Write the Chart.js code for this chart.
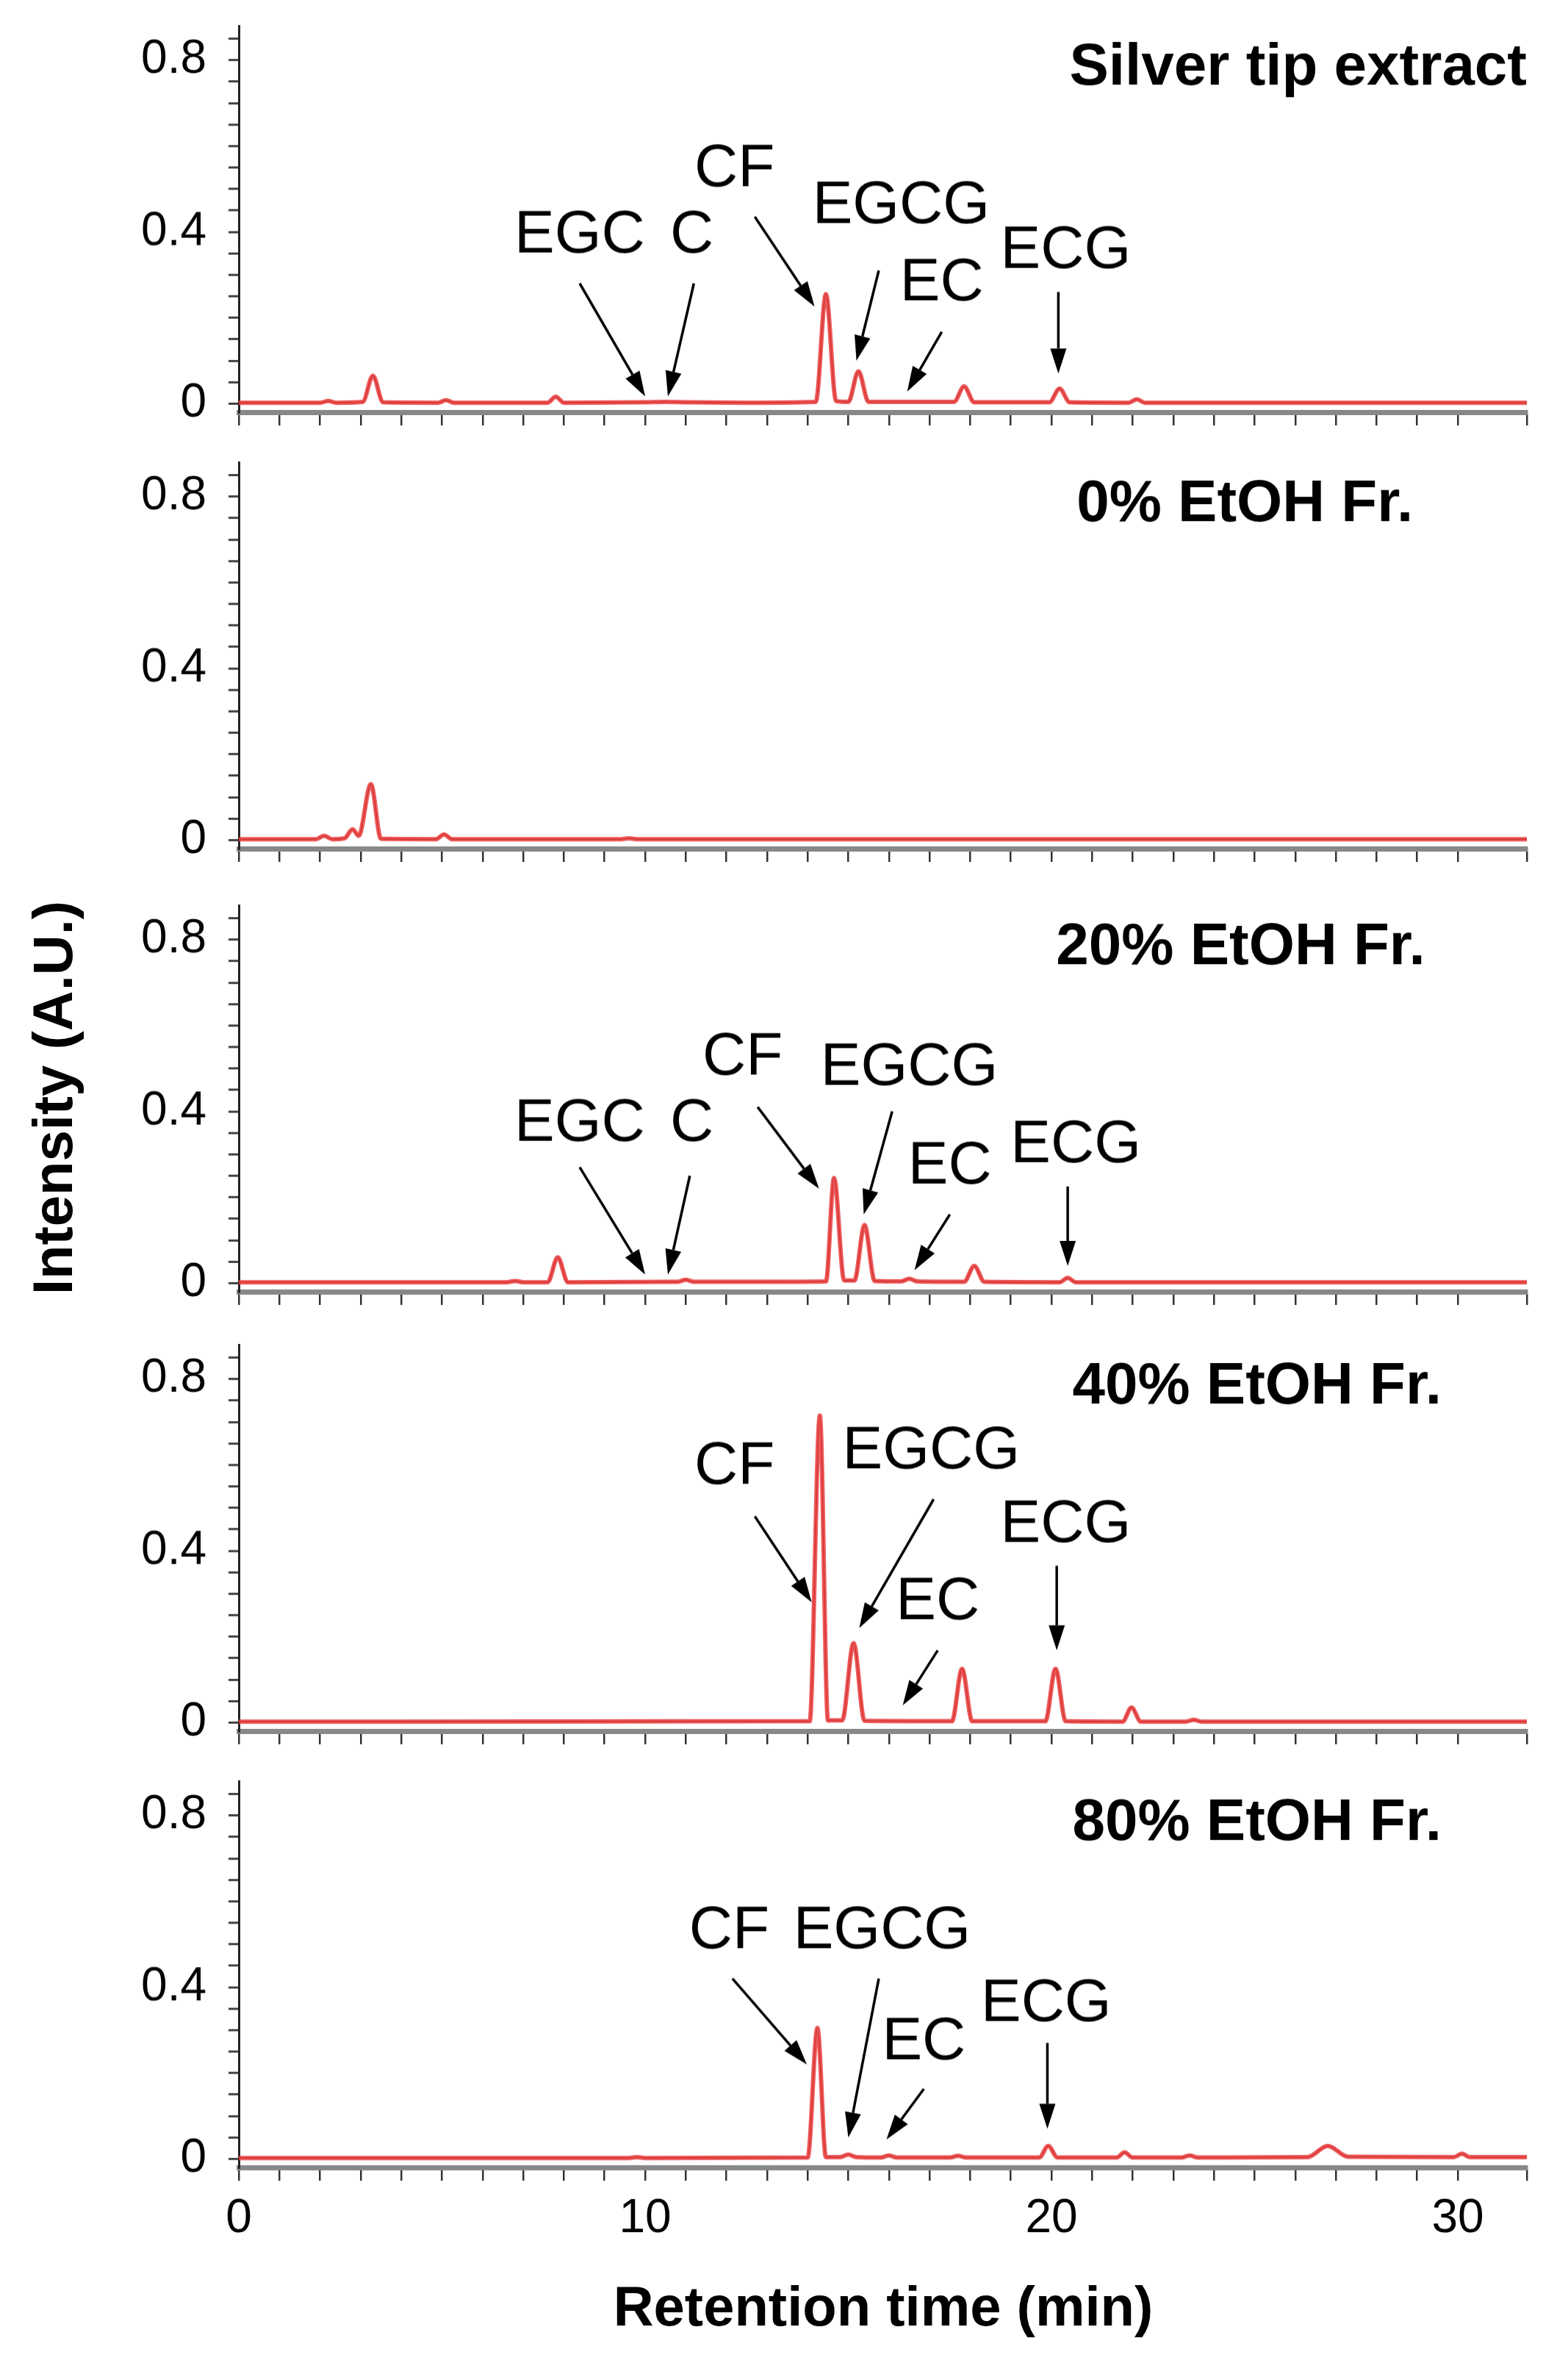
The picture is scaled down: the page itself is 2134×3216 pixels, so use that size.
<!DOCTYPE html>
<html>
<head>
<meta charset="utf-8">
<script src="https://cdn.jsdelivr.net/npm/chart.js@4.4.1/dist/chart.umd.min.js"></script>
<style>
  body { margin: 0; background: #fff; }
  #wrap { position: relative; width: 2134px; height: 3216px; overflow: hidden; }
  canvas { position: absolute; left: 0; }
  .title { position: absolute; font-family: "Liberation Sans", Arial, sans-serif; font-weight: bold; font-size: 76px; color: #000; white-space: nowrap; }
</style>
</head>
<body>
<div id="wrap">
  <div class="title" id="xTitle" style="left:0;width:2134px;text-align:center;top:3095px;padding-left:270px;box-sizing:border-box;">Retention time (min)</div>
  <div class="title" id="yTitle" style="left:71px;top:1494px;transform:translate(-50%,-50%) rotate(-90deg);">Intensity (A.U.)</div>
</div>
<script>
// ---- data ----
const panelNames = ["Silver tip extract", "0% EtOH Fr.", "20% EtOH Fr.", "40% EtOH Fr.", "80% EtOH Fr."];
const panelZero = [549, 1143, 1746, 2344, 2938]; // pixel row of intensity 0 in each panel

const silverX = [0,2.0,2.2,2.4,3.05,3.3,3.55,4.9,5.1,5.3,7.6,7.8,8.0,10.0,10.5,11.0,12.5,14.2,14.45,14.7,15.0,15.25,15.5,16.5,17.6,17.85,18.1,19.95,20.2,20.45,21.9,22.1,22.3,25,28,31.7];
const silverY = [0.002,0.002,0.006,0.002,0.004,0.065,0.003,0.002,0.008,0.002,0.002,0.016,0.002,0.003,0.004,0.003,0.002,0.004,0.255,0.006,0.004,0.075,0.004,0.004,0.004,0.04,0.003,0.003,0.035,0.003,0.002,0.01,0.002,0.002,0.002,0.002];

const etoh0X = [0,1.9,2.1,2.3,2.6,2.8,2.95,3.25,3.5,4.85,5.05,5.25,9.4,9.6,9.8,31.7];
const etoh0Y = [0.002,0.002,0.01,0.002,0.004,0.025,0.01,0.13,0.003,0.002,0.013,0.002,0.002,0.004,0.002,0.002];

const etoh20X = [0,6.6,6.8,7.0,7.6,7.85,8.1,10.8,11.0,11.2,13.0,14.45,14.65,14.9,15.15,15.4,15.65,16.3,16.5,16.7,17.85,18.1,18.35,20.2,20.4,20.6,31.7];
const etoh20Y = [0.002,0.002,0.005,0.002,0.002,0.06,0.002,0.003,0.008,0.003,0.003,0.004,0.245,0.006,0.006,0.135,0.005,0.004,0.01,0.004,0.003,0.04,0.003,0.002,0.012,0.002,0.002];

const etoh40X = [0,14.05,14.3,14.5,14.85,15.13,15.4,17.55,17.8,18.05,19.85,20.1,20.35,21.75,21.97,22.2,23.3,23.5,23.7,31.7];
const etoh40Y = [0.002,0.003,0.715,0.005,0.005,0.185,0.004,0.003,0.125,0.003,0.003,0.125,0.003,0.002,0.035,0.002,0.002,0.006,0.002,0.002];

const etoh80X = [0,9.6,9.8,10.0,14.0,14.24,14.45,14.8,15.0,15.2,15.8,16.0,16.2,17.5,17.7,17.9,19.7,19.92,20.15,21.6,21.8,22.0,23.2,23.4,23.6,26.3,26.8,27.3,29.9,30.1,30.3,31.7];
const etoh80Y = [0.002,0.002,0.004,0.002,0.003,0.305,0.004,0.004,0.01,0.004,0.003,0.008,0.003,0.003,0.007,0.003,0.003,0.03,0.003,0.003,0.015,0.003,0.003,0.008,0.003,0.004,0.03,0.005,0.004,0.012,0.004,0.004];

// peak labels: [text, labelX, labelY, arrowFromX, arrowFromY, arrowToX, arrowToY]
const silverLabels = [
  ["EGC", 8.39, 0.39, 8.39, 0.28, 10.0, 0.017],
  ["C", 11.15, 0.39, 11.2, 0.28, 10.56, 0.017],
  ["CF", 12.2, 0.545, 12.7, 0.435, 14.17, 0.226],
  ["EGCG", 16.3, 0.46, 15.75, 0.31, 15.2, 0.10],
  ["EC", 17.3, 0.28, 17.3, 0.167, 16.45, 0.028],
  ["ECG", 20.35, 0.355, 20.17, 0.26, 20.17, 0.07]
];
const etoh0Labels = [];
const etoh20Labels = [
  ["EGC", 8.39, 0.37, 8.39, 0.27, 10.0, 0.02],
  ["C", 11.15, 0.37, 11.1, 0.25, 10.56, 0.02],
  ["CF", 12.4, 0.525, 12.77, 0.41, 14.28, 0.22],
  ["EGCG", 16.5, 0.5, 16.08, 0.4, 15.38, 0.16],
  ["EC", 17.5, 0.27, 17.5, 0.16, 16.63, 0.03],
  ["ECG", 20.6, 0.32, 20.4, 0.225, 20.4, 0.04]
];
const etoh40Labels = [
  ["CF", 12.2, 0.595, 12.7, 0.48, 14.1, 0.28],
  ["EGCG", 17.04, 0.63, 17.1, 0.52, 15.27, 0.22],
  ["EC", 17.2, 0.28, 17.2, 0.168, 16.34, 0.04],
  ["ECG", 20.35, 0.46, 20.13, 0.365, 20.13, 0.168]
];
const etoh80Labels = [
  ["CF", 12.07, 0.53, 12.15, 0.42, 13.98, 0.22],
  ["EGCG", 15.83, 0.53, 15.75, 0.42, 15.0, 0.05],
  ["EC", 16.86, 0.27, 16.86, 0.163, 15.94, 0.045],
  ["ECG", 19.87, 0.36, 19.9, 0.27, 19.9, 0.07]
];
const panelTitleRight = [31.7, 28.9, 29.2, 29.6, 29.6]; // x (min) where panel name ends

const xTicksShown = [0, 10, 20, 30];
const yTicksShown = [0, 0.4, 0.8];

const panelX = [silverX, etoh0X, etoh20X, etoh40X, etoh80X];
const panelY = [silverY, etoh0Y, etoh20Y, etoh40Y, etoh80Y];
const panelLabels = [silverLabels, etoh0Labels, etoh20Labels, etoh40Labels, etoh80Labels];

const FONT = '"Liberation Sans", Arial, sans-serif';
const Y_MIN = -0.02, Y_MAX = 0.88, UNIT_PX = 584;
const PAD_TOP = 40;

const labelPlugin = {
    id: 'peakLabels',
    afterDatasetsDraw(chart, args, opts) {
        const c = chart.ctx, xs = chart.scales.x, ys = chart.scales.y;
        c.save();
        c.fillStyle = '#000';
        c.strokeStyle = '#000';
        c.lineWidth = 3.5;
        c.textAlign = 'center';
        c.textBaseline = 'middle';
        c.font = '82px ' + FONT;
        opts.labels.forEach(l => {
            c.fillText(l[0], xs.getPixelForValue(l[1]), ys.getPixelForValue(l[2]));
            const x1 = xs.getPixelForValue(l[3]), y1 = ys.getPixelForValue(l[4]);
            const x2 = xs.getPixelForValue(l[5]), y2 = ys.getPixelForValue(l[6]);
            const a = Math.atan2(y2 - y1, x2 - x1);
            const hl = 34, hw = 11;
            const bx = x2 - hl * Math.cos(a), by = y2 - hl * Math.sin(a);
            c.beginPath(); c.moveTo(x1, y1); c.lineTo(bx, by); c.stroke();
            c.beginPath();
            c.moveTo(x2, y2);
            c.lineTo(bx + hw * Math.sin(a), by - hw * Math.cos(a));
            c.lineTo(bx - hw * Math.sin(a), by + hw * Math.cos(a));
            c.closePath(); c.fill();
        });
        c.font = 'bold 80px ' + FONT;
        c.textAlign = 'right';
        c.fillText(opts.title, xs.getPixelForValue(opts.titleRight), ys.getPixelForValue(0.78));
        c.restore();
    }
};

const wrap = document.getElementById('wrap');

panelNames.forEach((name, i) => {
    const last = i === panelNames.length - 1;
    const areaH = (Y_MAX - Y_MIN) * UNIT_PX;
    const axisH = last ? 140 : 40;
    const top = panelZero[i] - Y_MAX * UNIT_PX - PAD_TOP;
    const cv = document.createElement('canvas');
    cv.style.top = top + 'px';
    cv.style.width = '2134px';
    cv.style.height = (PAD_TOP + areaH + axisH) + 'px';
    wrap.appendChild(cv);

    const pts = panelX[i].map((x, k) => ({ x: x, y: panelY[i][k] }));

    new Chart(cv.getContext('2d'), {
        type: 'line',
        data: {
            datasets: [
                { data: pts, borderColor: 'rgba(235,60,60,0.85)', borderWidth: 6, pointRadius: 0, cubicInterpolationMode: 'monotone' },
                { data: pts, borderColor: '#5a1010', borderWidth: 1.6, pointRadius: 0, cubicInterpolationMode: 'monotone' }
            ]
        },
        options: {
            responsive: false,
            animation: false,
            devicePixelRatio: 1,
            layout: { padding: { top: PAD_TOP, right: 56, left: 0, bottom: 0 } },
            plugins: {
                legend: { display: false },
                tooltip: { enabled: false },
                peakLabels: { labels: panelLabels[i], title: name, titleRight: panelTitleRight[i] }
            },
            scales: {
                x: {
                    type: 'linear', min: 0, max: 31.7,
                    afterFit: s => { s.height = axisH; s.paddingLeft = 0; s.paddingRight = 0; },
                    border: { color: '#888', width: 7 },
                    grid: { drawOnChartArea: false, tickLength: 18, color: '#333', lineWidth: 2.5 },
                    ticks: {
                        stepSize: 1, autoSkip: false, maxRotation: 0, color: '#000', padding: 14,
                        font: { family: FONT, size: 64 },
                        callback: v => (last && xTicksShown.includes(v)) ? String(v) : ''
                    }
                },
                y: {
                    min: Y_MIN, max: Y_MAX,
                    afterFit: s => { s.width = 325; s.paddingTop = 0; s.paddingBottom = 0; },
                    afterBuildTicks: s => {
                        const t = [];
                        for (let k = 0; k <= 17; k++) t.push({ value: Math.round(k * 5) / 100 });
                        s.ticks = t;
                    },
                    border: { color: '#222', width: 3 },
                    grid: { drawOnChartArea: false, tickLength: 14, color: '#444', lineWidth: 3 },
                    ticks: {
                        autoSkip: false, color: '#000', padding: 30,
                        font: { family: FONT, size: 64 },
                        callback: v => yTicksShown.includes(Math.round(v * 100) / 100) ? String(Math.round(v * 10) / 10) : ''
                    }
                }
            }
        },
        plugins: [labelPlugin]
    });
});
</script>
</body>
</html>
